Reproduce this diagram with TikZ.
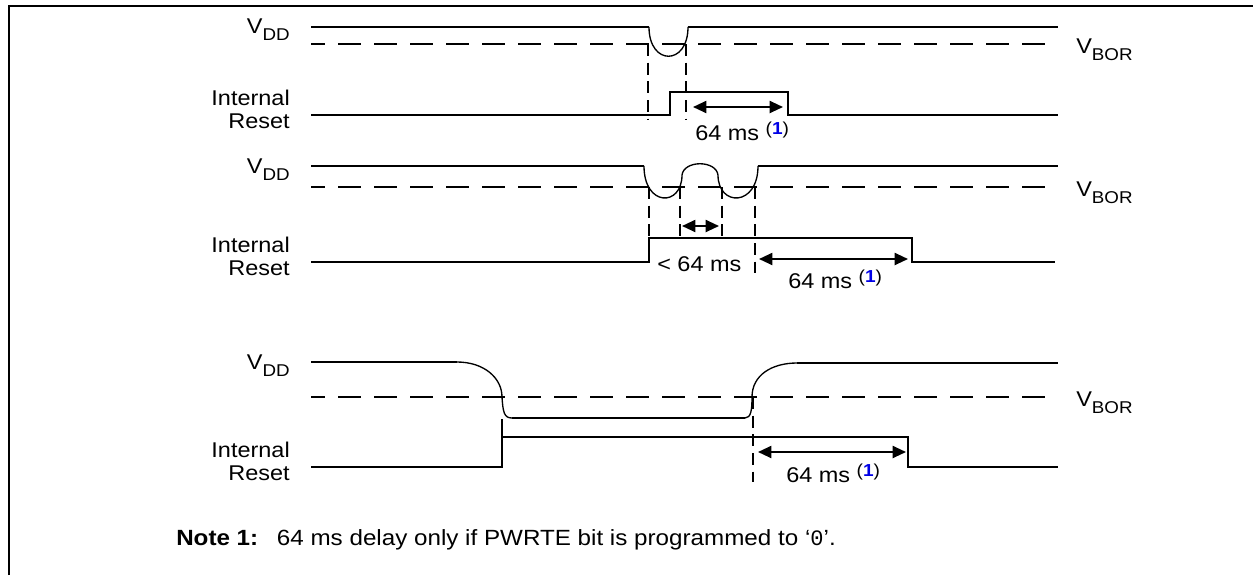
\documentclass[tikz,border=0pt]{standalone}
\usepackage{fontspec}
\setmainfont{Liberation Sans}[FakeStretch=1.1]
\newfontfamily\monofnt{Liberation Mono}
\usetikzlibrary{arrows.meta}
\definecolor{refblue}{RGB}{0,0,230}
\newcommand\lowsub[1]{\raisebox{-5.5pt}{\fontsize{12.8}{13}\selectfont #1}}
\newcommand\supref{\raisebox{4pt}{\fontsize{13}{13}\selectfont(\textcolor{refblue}{\textbf{1}})}}
\begin{document}
\begin{tikzpicture}[x=0.75pt,y=-0.75pt,
  sig/.style={line width=1.5pt},
  curv/.style={line width=1pt},
  thr/.style={line width=1.5pt, dash pattern=on 17.25pt off 9.75pt, dash phase=6.75pt},
  vdash/.style={line width=1.5pt, dash pattern=on 9pt off 5pt},
  dim/.style={line width=1.5pt, {Triangle[length=10pt,width=9pt]}-{Triangle[length=10pt,width=9pt]}},
  lbl/.style={font=\fontsize{16}{17.25}\selectfont, inner sep=0pt},
  notefont/.style={font=\fontsize{16.5}{17}\selectfont, inner sep=0pt}]
\useasboundingbox (0,0) rectangle (1253,575);
\draw[line width=1.5pt] (9,575) -- (9,5.5) -- (1253,5.5);

% ---------- panel 1 ----------
\node[lbl, anchor=base east] (vdd1) at (290,33) {V\lowsub{DD}};
\node[lbl, anchor=east, align=right] (ir1) at (290,109) {Internal\\Reset};
\node[lbl, anchor=base west] (vb1) at (1076,53) {V\lowsub{BOR}};
\draw[sig] (311,27) -- (649,27);
\draw[curv] (649,27) .. controls (649,66) and (688,66) .. (688,27);
\draw[sig] (688,27) -- (1058,27);
\draw[thr] (311,44) -- (1058,44);
\draw[sig] (311,115) -- (670,115) -- (670,92) -- (788,92) -- (788,115) -- (1058,115);
\draw[vdash] (648,44) -- (648,119);
\draw[vdash] (686,44) -- (686,119);
\coordinate (p1a) at (693,107);
\coordinate (p1b) at (783,107);
\draw[dim] (p1a) -- (p1b);
\node[lbl, anchor=base west] (t1) at (695,140) {64 ms \supref};

% ---------- panel 2 ----------
\node[lbl, anchor=base east] (vdd2) at (290,173) {V\lowsub{DD}};
\node[lbl, anchor=east, align=right] (ir2) at (290,256) {Internal\\Reset};
\node[lbl, anchor=base west] (vb2) at (1076,196) {V\lowsub{BOR}};
\draw[sig] (311,166) -- (644,166);
\draw[curv] (644,166) .. controls (644,207) and (682,207) .. (682,175)
  .. controls (684,160) and (716,160) .. (718,175)
  .. controls (718,207) and (758,207) .. (758,166);
\draw[sig] (758,166) -- (1058,166);
\draw[thr] (311,187) -- (1058,187);
\draw[sig] (311,262) -- (649,262) -- (649,238) -- (912,238) -- (912,262) -- (1055,262);
\draw[vdash] (649,187) -- (649,238);
\draw[vdash] (680,187) -- (680,240);
\draw[vdash] (722,187) -- (722,240);
\draw[vdash] (755,187) -- (755,273);
\coordinate (p2a) at (682,226);
\coordinate (p2b) at (719,226);
\draw[dim] (p2a) -- (p2b);
\coordinate (p2c) at (759,259);
\coordinate (p2d) at (908,259);
\draw[dim] (p2c) -- (p2d);
\node[lbl, anchor=base west] (t2a) at (657,271) {< 64 ms};
\node[lbl, anchor=base west] (t2b) at (788,288) {64 ms \supref};

% ---------- panel 3 ----------
\node[lbl, anchor=base east] (vdd3) at (290,369) {V\lowsub{DD}};
\node[lbl, anchor=east, align=right] (ir3) at (290,461) {Internal\\Reset};
\node[lbl, anchor=base west] (vb3) at (1076,406) {V\lowsub{BOR}};
\draw[sig] (311,362) -- (457,362);
\draw[curv] (457,362) .. controls (484,362) and (502,378) .. (502,397)
  .. controls (503,412) and (504,418) .. (512,418);
\draw[sig] (512,418) -- (745,418);
\draw[curv] (745,418) .. controls (751,418) and (752,410) .. (752,397)
  .. controls (752,375) and (772,363) .. (797,363);
\draw[sig] (797,363) -- (1058,363);
\draw[thr] (311,397) -- (1058,397);
\draw[sig] (311,467) -- (502,467) -- (502,437) -- (908,437) -- (908,467) -- (1058,467);
\draw[sig] (502,419) -- (502,437);
\draw[vdash] (753,397) -- (753,482);
\coordinate (p3a) at (758,452);
\coordinate (p3b) at (906,452);
\draw[dim] (p3a) -- (p3b);
\node[lbl, anchor=base west] (t3) at (786,482) {64 ms \supref};

% ---------- note ----------
\node[notefont, anchor=base west] (note) at (176,545)
  {\textbf{Note 1:}\hspace{14pt}64 ms delay only if PWRTE bit is programmed to ‘{\monofnt 0}’.};
\end{tikzpicture}
\end{document}
